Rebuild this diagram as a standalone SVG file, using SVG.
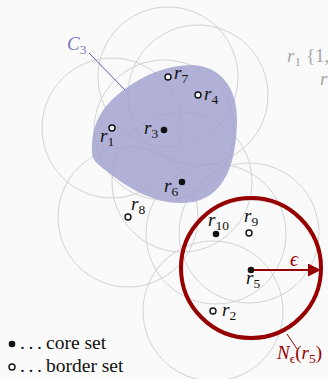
<svg xmlns="http://www.w3.org/2000/svg" width="328" height="379" viewBox="0 0 328 379">
<style>
.ring{fill:none;stroke:#d2d2d2;stroke-width:1}
.core{fill:#111}
.border{fill:#fafafa;stroke:#111;stroke-width:1.4}
.lbl{font-family:"Liberation Serif",serif;font-size:19px;fill:#111}
.it{font-style:italic}
.sub{font-size:13.5px;font-style:normal}
.red{fill:#960000}
.leg{font-size:19.5px}
.dots{font-size:19.5px;letter-spacing:3.6px}
</style>
<defs>
<marker id="ah" viewBox="0 0 10 10" refX="10" refY="5" markerWidth="17" markerHeight="13" markerUnits="userSpaceOnUse" orient="auto"><path d="M0,0 L10,5 L0,10 Z" fill="#960000"/></marker>
</defs>
<rect width="328" height="379" fill="#fafafa"/>
<g id="neighbourhoods">
<circle class="ring" cx="112" cy="128" r="70"/>
<circle class="ring" cx="213" cy="311" r="70"/>
<circle class="ring" cx="164" cy="130" r="70"/>
<circle class="ring" cx="198" cy="95" r="70"/>
<circle class="ring" cx="251" cy="270" r="70"/>
<circle class="ring" cx="182" cy="182" r="70"/>
<circle class="ring" cx="168" cy="77" r="70"/>
<circle class="ring" cx="128" cy="217" r="70"/>
<circle class="ring" cx="249" cy="233" r="70"/>
<circle class="ring" cx="216" cy="234" r="70"/>
</g>
<g id="cluster-C3">
<path d="M92,152 C91,122 104,104 125,89 C145,74 168,65 192,65 C222,66 238,90 237,122 C236,150 232,172 218,188 C205,202 188,205 168,202 C145,198 125,186 108,172 C97,164 92,160 92,152 Z" fill="#a3a3d0" fill-opacity="0.85"/>
<line x1="89" y1="53" x2="125" y2="90" stroke="#5a5ab4" stroke-width="1"/>
<text class="lbl it" x="67" y="50" style="fill:#7b7bc4">C<tspan class="sub" dy="4">3</tspan></text>
</g>
<g id="eps-neighbourhood">
<circle cx="251" cy="268" r="70" fill="none" stroke="#960000" stroke-width="4"/>
<line x1="251" y1="270" x2="321" y2="270" stroke="#960000" stroke-width="2" marker-end="url(#ah)"/>
<text class="lbl it red" x="290" y="266" style="font-size:20px">ϵ</text>
<line x1="287" y1="334" x2="297" y2="349" stroke="#960000" stroke-width="1"/>
<text class="lbl red" x="277" y="359"><tspan class="it">N</tspan><tspan class="sub it" dy="4">ϵ</tspan><tspan dy="-4">(</tspan><tspan class="it">r</tspan><tspan class="sub" dy="4">5</tspan><tspan dy="-4">)</tspan></text>
</g>
<g id="r1"><circle class="border" cx="112" cy="128" r="3"/><text class="lbl" x="100" y="142"><tspan class="it">r</tspan><tspan class="sub" dy="4">1</tspan></text></g>
<g id="r2"><circle class="border" cx="213" cy="311" r="3"/><text class="lbl" x="222" y="316"><tspan class="it">r</tspan><tspan class="sub" dy="4">2</tspan></text></g>
<g id="r3"><circle class="core" cx="164" cy="130" r="3.3"/><text class="lbl" x="144" y="134"><tspan class="it">r</tspan><tspan class="sub" dy="4">3</tspan></text></g>
<g id="r4"><circle class="border" cx="198" cy="95" r="3"/><text class="lbl" x="204" y="100"><tspan class="it">r</tspan><tspan class="sub" dy="4">4</tspan></text></g>
<g id="r5"><circle class="core" cx="251" cy="270" r="3.3"/><text class="lbl" x="246" y="284"><tspan class="it">r</tspan><tspan class="sub" dy="4">5</tspan></text></g>
<g id="r6"><circle class="core" cx="182" cy="182" r="3.3"/><text class="lbl" x="164" y="192"><tspan class="it">r</tspan><tspan class="sub" dy="4">6</tspan></text></g>
<g id="r7"><circle class="border" cx="168" cy="77" r="3"/><text class="lbl" x="174" y="79"><tspan class="it">r</tspan><tspan class="sub" dy="4">7</tspan></text></g>
<g id="r8"><circle class="border" cx="128" cy="217" r="3"/><text class="lbl" x="131" y="210"><tspan class="it">r</tspan><tspan class="sub" dy="4">8</tspan></text></g>
<g id="r9"><circle class="border" cx="249" cy="233" r="3"/><text class="lbl" x="244" y="222"><tspan class="it">r</tspan><tspan class="sub" dy="4">9</tspan></text></g>
<g id="r10"><circle class="core" cx="216" cy="234" r="3.3"/><text class="lbl" x="208" y="226"><tspan class="it">r</tspan><tspan class="sub" dy="4">10</tspan></text></g>
<g id="side-note">
<text class="lbl" x="287" y="62" style="fill:#a8a8a8"><tspan class="it">r</tspan><tspan class="sub" dy="4">1</tspan><tspan dy="-4"> {1,</tspan></text>
<text class="lbl it" x="320" y="85" style="fill:#a8a8a8">r</text>
</g>
<g id="legend">
<circle class="core" cx="12" cy="344" r="3.3"/>
<text class="lbl dots" x="20" y="349">...</text>
<text class="lbl leg" x="46" y="349">core set</text>
<circle class="border" cx="12" cy="367" r="3"/>
<text class="lbl dots" x="20" y="372">...</text>
<text class="lbl leg" x="46" y="372">border set</text>
</g>
</svg>
